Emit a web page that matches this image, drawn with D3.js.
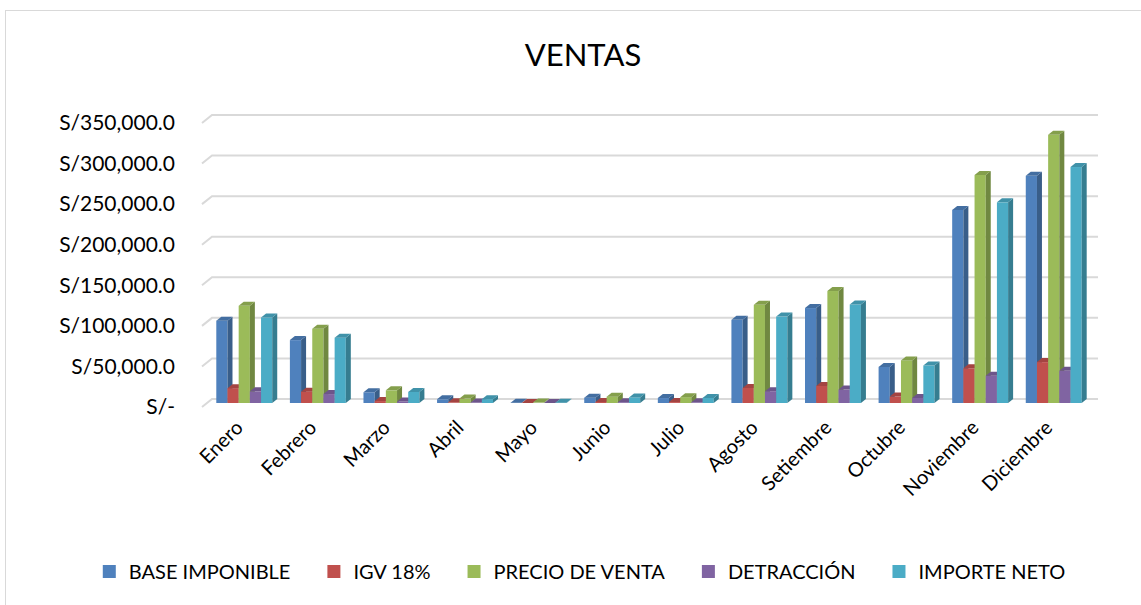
<!DOCTYPE html>
<html>
<head>
<meta charset="utf-8">
<script src="https://cdn.jsdelivr.net/npm/d3@7"></script>
<style>
  body { margin: 0; background: #fff; }
  text { font-family: Lato, "Open Sans", sans-serif; fill: #000; }
</style>
</head>
<body>
<div id="chart"></div>
<script>
// datos
const meses = ["Enero", "Febrero", "Marzo", "Abril", "Mayo", "Junio", "Julio",
    "Agosto", "Setiembre", "Octubre", "Noviembre", "Diciembre"];
const series = ["BASE IMPONIBLE", "IGV 18%", "PRECIO DE VENTA", "DETRACCIÓN", "IMPORTE NETO"];
const baseImponible = [101500, 77500, 13200, 4600, 400, 6600, 6100, 102500, 117000, 44500, 238000, 280000];
const igv = [18300, 14000, 2400, 830, 70, 1200, 1100, 18500, 21100, 8000, 42800, 50400];
const precioVenta = [119800, 91500, 15600, 5400, 470, 7800, 7200, 121000, 138000, 52500, 281000, 330500];
const detraccion = [14400, 11000, 1870, 650, 56, 940, 860, 14500, 16600, 6300, 33700, 39700];
const importeNeto = [105400, 80500, 13700, 4750, 415, 6900, 6300, 106500, 121400, 46200, 247300, 290800];
const yTicks = [0, 50000, 100000, 150000, 200000, 250000, 300000, 350000];
const colores = ["#4F81BD", "#C0504D", "#9BBB59", "#8064A2", "#4BACC6"];

const valores = [baseImponible, igv, precioVenta, detraccion, importeNeto];

const W = 1141, H = 605;
const svg = d3.select("#chart").append("svg")
    .attr("width", W).attr("height", H);

// borde del grafico
svg.append("rect")
    .attr("x", 5.5).attr("y", 10.5)
    .attr("width", 1200).attr("height", 700)
    .attr("fill", "none").attr("stroke", "#d9d9d9").attr("stroke-width", 1);

// titulo
svg.append("text")
    .attr("x", 583).attr("y", 66)
    .attr("text-anchor", "middle")
    .style("font-size", "31px")
    .text("VENTAS");

// pared de fondo (back wall) y profundidad
const back = { left: 212, right: 1098 };
const depth = { dx: 10, dy: -8 };       // profundidad completa del piso
const front = { dx: -6, dy: 4 };        // cara frontal de las barras vs pared
const barDepth = { dx: 5, dy: -4 };

let y = d3.scaleLinear()
    .domain([0, 350000])
    .range([399, 115]);

let x = d3.scaleBand()
    .domain(meses)
    .range([back.left, back.right])
    .paddingInner(0.24)
    .paddingOuter(0.14);

let xs = d3.scaleBand()
    .domain(series)
    .range([0, x.bandwidth()])
    .padding(0);

// lineas de division
let grid = svg.append("g");
yTicks.forEach(function (t) {
    grid.append("path")
        .attr("d", "M" + (back.left - depth.dx) + "," + (y(t) - depth.dy) +
            "L" + back.left + "," + y(t) + "L" + back.right + "," + y(t))
        .attr("fill", "none")
        .attr("stroke", "#d9d9d9")
        .attr("stroke-width", 2);
});

// etiquetas eje y
let fmt = function (d) {
    if (d === 0) return "S/-";
    return "S/" + d3.format(",.1f")(d);
};
svg.append("g").selectAll("text")
    .data(yTicks)
    .enter()
    .append("text")
    .attr("x", 175)
    .attr("y", function (d) { return y(d) - depth.dy; })
    .attr("dy", "0.35em")
    .attr("text-anchor", "end")
    .style("font-size", "21px")
    .text(fmt);

// barras 3D
let bars = svg.append("g");
meses.forEach(function (m, i) {
    series.forEach(function (s, j) {
        let v = valores[j][i];
        let x0 = x(m) + xs(s) + front.dx;
        let w = xs.bandwidth();
        let yb = y(0) + front.dy;
        let yt = y(v) + front.dy;
        let c = d3.color(colores[j]);
        let g = bars.append("g");
        // cara frontal
        g.append("rect")
            .attr("x", x0).attr("y", yt)
            .attr("width", w).attr("height", yb - yt)
            .attr("fill", c.formatHex());
        // cara lateral
        g.append("path")
            .attr("d", "M" + (x0 + w) + "," + yt +
                "L" + (x0 + w + barDepth.dx) + "," + (yt + barDepth.dy) +
                "L" + (x0 + w + barDepth.dx) + "," + (yb + barDepth.dy) +
                "L" + (x0 + w) + "," + yb + "Z")
            .attr("fill", c.darker(0.9).formatHex());
        // cara superior
        g.append("path")
            .attr("d", "M" + x0 + "," + yt +
                "L" + (x0 + w) + "," + yt +
                "L" + (x0 + w + barDepth.dx) + "," + (yt + barDepth.dy) +
                "L" + (x0 + barDepth.dx) + "," + (yt + barDepth.dy) + "Z")
            .attr("fill", c.darker(0.45).formatHex());
    });
});

// etiquetas eje x
svg.append("g").selectAll("text")
    .data(meses)
    .enter()
    .append("text")
    .attr("transform", function (d) {
        return "translate(" + (x(d) + x.bandwidth() / 2 + front.dx - 10) + ",419)rotate(-45)";
    })
    .attr("dy", "0.7em")
    .attr("text-anchor", "end")
    .style("font-size", "20px")
    .text(function (d) { return d; });

// leyenda
let legend = svg.append("g");
let items = legend.selectAll("g")
    .data(series)
    .enter()
    .append("g");
items.append("rect")
    .attr("width", 13).attr("height", 13)
    .attr("y", 565)
    .attr("fill", function (d, i) { return colores[i]; });
items.append("text")
    .attr("x", 26)
    .attr("y", 572)
    .attr("dy", "0.35em")
    .style("font-size", "20px")
    .text(function (d) { return d; });

let gap = 37, pos = 0, offs = [];
items.each(function () {
    offs.push(pos);
    pos += 26 + this.querySelector("text").getComputedTextLength() + gap;
});
let total = pos - gap;
let startX = 584 - total / 2;
items.attr("transform", function (d, i) { return "translate(" + (startX + offs[i]) + ",0)"; });
</script>
</body>
</html>
